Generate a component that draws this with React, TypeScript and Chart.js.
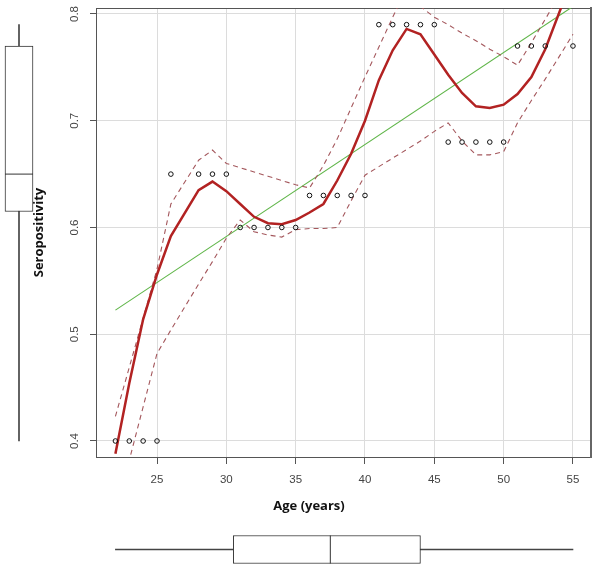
import React, { useEffect, useRef } from "react";
import { Chart, registerables } from "chart.js";

Chart.register(...registerables);

// ---- data ----
const ages = [22, 23, 24, 25, 26, 28, 29, 30, 31, 32, 33, 34, 35, 36, 37, 38, 39, 40, 41, 42, 43, 44, 45, 46, 47, 48, 49, 50, 51, 52, 53, 55];
const seropositivity = [0.4, 0.4, 0.4, 0.4, 0.65, 0.65, 0.65, 0.65, 0.6, 0.6, 0.6, 0.6, 0.6, 0.63, 0.63, 0.63, 0.63, 0.63, 0.79, 0.79, 0.79, 0.79, 0.79, 0.68, 0.68, 0.68, 0.68, 0.68, 0.77, 0.77, 0.77, 0.77];
const smoothFit = [0.388, 0.454, 0.514, 0.556, 0.592, 0.635, 0.643, 0.634, 0.622, 0.61, 0.604, 0.603, 0.607, 0.614, 0.622, 0.644, 0.669, 0.7, 0.738, 0.766, 0.786, 0.781, 0.762, 0.743, 0.726, 0.7135, 0.712, 0.715, 0.725, 0.741, 0.767, 0.835];
const upperBand = [0.423, 0.469, 0.515, 0.561, 0.622, 0.663, 0.6725, 0.66, 0.656, 0.652, 0.648, 0.644, 0.64, 0.637, 0.658, 0.683, 0.712, 0.741, 0.769, 0.797, 0.824, 0.807, 0.797, 0.79, 0.782, 0.775, 0.767, 0.76, 0.752, 0.773, 0.795, 0.84];
const lowerBand = [0.33, 0.382, 0.432, 0.482, 0.504, 0.547, 0.568, 0.59, 0.607, 0.596, 0.593, 0.591, 0.598, 0.599, 0.599, 0.6, 0.625, 0.649, 0.657, 0.665, 0.673, 0.681, 0.69, 0.698, 0.681, 0.668, 0.668, 0.671, 0.698, 0.719, 0.739, 0.781];
const trendAges = [22, 55];
const trendFit = [0.5226, 0.807];
const xTicks = [25, 30, 35, 40, 45, 50, 55];
const yTicks = [0.4, 0.5, 0.6, 0.7, 0.8];
// five-number summaries: min, lower hinge, median, upper hinge, max
const ageFive = [22, 30.5, 37.5, 44, 55];
const seroFive = [0.4, 0.615, 0.65, 0.77, 0.79];
const xRange = [20.6, 56.3];
const yRange = [0.385, 0.8056];

// ---- styles ----
const RED = "#b22222";
const DASH = "#a4575c";
const GREEN = "#5fb548";
const GRID = "#dcdcdc";
const AXIS = "#555555";
const TXT = "#444444";
const TICK_FONT = { family: "Liberation Sans", size: 11.5 };
const TITLE_FONT = { family: "Open Sans", size: 13, weight: "bold" as const };

const pts = (xs: number[], ys: number[]) => xs.map((x, i) => ({ x, y: ys[i] }));

export default function App() {
  const mainRef = useRef<HTMLCanvasElement>(null);
  const leftRef = useRef<HTMLCanvasElement>(null);
  const bottomRef = useRef<HTMLCanvasElement>(null);

  useEffect(() => {
    const main = new Chart(mainRef.current!, {
      type: "scatter",
      data: {
        datasets: [
          {
            type: "scatter",
            label: "observed",
            data: pts(ages, seropositivity),
            pointRadius: 2.3,
            pointBorderWidth: 1,
            borderColor: "#111",
            backgroundColor: "rgba(0,0,0,0)",
          } as any,
          {
            type: "line",
            label: "smooth",
            data: pts(ages, smoothFit),
            borderColor: RED,
            borderWidth: 2.5,
            pointRadius: 0,
            tension: 0,
          },
          {
            type: "line",
            label: "upper",
            data: pts(ages, upperBand),
            borderColor: DASH,
            borderWidth: 1.1,
            borderDash: [5, 4],
            pointRadius: 0,
            tension: 0,
          },
          {
            type: "line",
            label: "lower",
            data: pts(ages, lowerBand),
            borderColor: DASH,
            borderWidth: 1.1,
            borderDash: [5, 4],
            pointRadius: 0,
            tension: 0,
          },
          {
            type: "line",
            label: "trend",
            data: pts(trendAges, trendFit),
            borderColor: GREEN,
            borderWidth: 1.1,
            pointRadius: 0,
          },
        ],
      },
      options: {
        responsive: false,
        animation: false,
        layout: { autoPadding: false, padding: { left: 27, right: 9, top: 8, bottom: 55.4 } },
        plugins: {
          legend: { display: false },
          tooltip: { enabled: false },
          title: {
            display: true,
            text: "Age (years)",
            position: "bottom",
            color: "#111",
            font: TITLE_FONT,
            padding: { top: 0, bottom: 0 },
          },
        },
        scales: {
          x: {
            type: "linear",
            position: "bottom",
            min: xRange[0],
            max: xRange[1],
            afterBuildTicks: (s: any) => {
              s.ticks = xTicks.map((v) => ({ value: v }));
            },
            afterFit: (s: any) => {
              s.height = 41;
              s.paddingLeft = 0;
              s.paddingRight = 0;
            },
            grid: { color: GRID, tickColor: AXIS, tickLength: 7, lineWidth: 1 },
            border: { color: AXIS, width: 1 },
            ticks: { color: TXT, font: TICK_FONT, padding: 9, maxRotation: 0 },
          },
          y: {
            type: "linear",
            position: "left",
            min: yRange[0],
            max: yRange[1],
            afterBuildTicks: (s: any) => {
              s.ticks = yTicks.map((v) => ({ value: v }));
            },
            afterFit: (s: any) => {
              s.width = 69;
              s.paddingTop = 0;
              s.paddingBottom = 0;
            },
            grid: { color: GRID, tickColor: AXIS, tickLength: 6, lineWidth: 1 },
            border: { color: AXIS, width: 1 },
            ticks: {
              color: TXT,
              font: TICK_FONT,
              padding: 7.5,
              minRotation: 90,
              maxRotation: 90,
              crossAlign: "center",
              callback: (v: any) => String(v),
            },
            title: {
              display: true,
              text: "Seropositivity",
              color: "#111",
              font: TITLE_FONT,
              padding: { top: 4, bottom: 4 },
            },
          },
          xTop: {
            type: "linear",
            position: "top",
            min: xRange[0],
            max: xRange[1],
            ticks: { display: false },
            grid: { display: false, drawTicks: false },
            border: { color: AXIS, width: 1 },
            afterFit: (s: any) => {
              s.height = 0;
              s.paddingLeft = 0;
              s.paddingRight = 0;
            },
          },
          yRight: {
            type: "linear",
            position: "right",
            min: yRange[0],
            max: yRange[1],
            ticks: { display: false },
            grid: { display: false, drawTicks: false },
            border: { color: "#666", width: 2 },
            afterFit: (s: any) => {
              s.width = 0;
              s.paddingTop = 0;
              s.paddingBottom = 0;
            },
          },
        } as any,
      },
    });

    const left = new Chart(leftRef.current!, {
      type: "bar",
      data: {
        labels: ["Seropositivity"],
        datasets: [
          {
            type: "line",
            label: "median",
            data: [seroFive[2]],
            showLine: false,
            pointStyle: "line",
            pointRadius: 14,
            pointBorderWidth: 1,
            pointBorderColor: "#333",
            clip: false,
          } as any,
          {
            type: "bar",
            label: "box",
            data: [[seroFive[1], seroFive[3]]],
            backgroundColor: "#ffffff",
            borderColor: "#333",
            borderWidth: 1,
            borderSkipped: false,
            barThickness: 28,
            grouped: false,
            clip: false,
          } as any,
          {
            type: "bar",
            label: "whisker",
            data: [[seroFive[0], seroFive[4]]],
            backgroundColor: "#444",
            borderWidth: 0,
            barThickness: 1,
            grouped: false,
            clip: false,
          } as any,
        ],
      },
      options: {
        responsive: false,
        animation: false,
        layout: { autoPadding: false, padding: { left: 0, right: 2, top: 8, bottom: 112 } },
        plugins: { legend: { display: false }, tooltip: { enabled: false } },
        scales: {
          x: { type: "category", display: false },
          y: { type: "linear", display: false, min: yRange[0], max: yRange[1] },
        },
      },
    });

    const bottom = new Chart(bottomRef.current!, {
      type: "bar",
      data: {
        labels: ["Age"],
        datasets: [
          {
            type: "line",
            label: "median",
            indexAxis: "y",
            data: [ageFive[2]],
            showLine: false,
            pointStyle: "line",
            pointRotation: 90,
            pointRadius: 14,
            pointBorderWidth: 1,
            pointBorderColor: "#333",
            clip: false,
          } as any,
          {
            type: "bar",
            label: "box",
            data: [[ageFive[1], ageFive[3]]],
            backgroundColor: "#ffffff",
            borderColor: "#333",
            borderWidth: 1,
            borderSkipped: false,
            barThickness: 28,
            grouped: false,
            clip: false,
          } as any,
          {
            type: "bar",
            label: "whisker",
            data: [[ageFive[0], ageFive[4]]],
            backgroundColor: "#444",
            borderWidth: 0,
            barThickness: 1,
            grouped: false,
            clip: false,
          } as any,
        ],
      },
      options: {
        indexAxis: "y",
        responsive: false,
        animation: false,
        layout: { autoPadding: false, padding: { left: 96, right: 9, top: 10, bottom: 0 } },
        plugins: { legend: { display: false }, tooltip: { enabled: false } },
        scales: {
          x: { type: "linear", display: false, min: xRange[0], max: xRange[1] },
          y: { type: "category", display: false },
        },
      },
    });

    return () => {
      main.destroy();
      left.destroy();
      bottom.destroy();
    };
  }, []);

  return (
    <div style={{ position: "absolute", left: 0, top: 0, width: 600, height: 569, background: "#fff" }}>
      <canvas ref={leftRef} width={40} height={569} style={{ position: "absolute", left: 0, top: 0 }} />
      <canvas ref={mainRef} width={600} height={569} style={{ position: "absolute", left: 0, top: 0 }} />
      <canvas ref={bottomRef} width={600} height={49} style={{ position: "absolute", left: 0, top: 520 }} />
    </div>
  );
}
